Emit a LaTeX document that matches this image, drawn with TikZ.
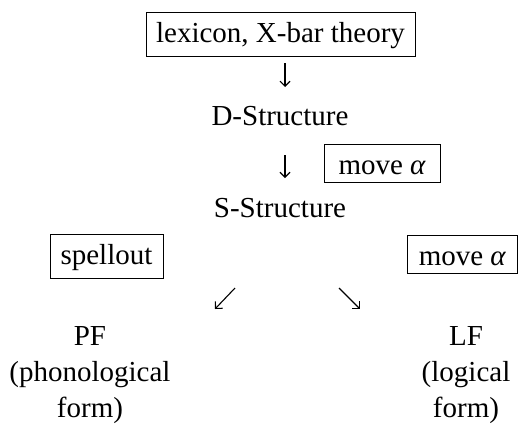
\documentclass[tikz,border=0pt]{standalone}
\usepackage{fontspec}
\setmainfont{Liberation Serif}
\usetikzlibrary{arrows.meta}
\begin{document}
\begin{tikzpicture}[x=1pt,y=-1pt,
  every node/.style={font=\fontsize{29}{36}\selectfont, inner sep=0pt},
  boxed/.style={draw, line width=0.8pt, anchor=base, text height=22pt, inner ysep=8pt},
  flow/.style={line width=1.1pt, -{Straight Barb[length=5pt,width=10pt]}}]
\useasboundingbox (0,0) rectangle (518,424);
\node[boxed, minimum width=269pt] (lex) at (280.5,42) {lexicon, X-bar theory};
\coordinate (a1s) at (285,63);
\coordinate (a1e) at (285,87);
\node[anchor=base] (ds) at (280,125) {D-Structure};
\coordinate (a2s) at (285,155);
\coordinate (a2e) at (285,178);
\node[boxed, minimum width=116pt] (mv1) at (382,174) {move {\itshape α}};
\node[anchor=base] (ss) at (280,217) {S-Structure};
\node[boxed, minimum width=113pt] (sp) at (106.5,264) {spellout};
\node[boxed, minimum width=110.5pt] (mv2) at (462.25,265) {move {\itshape α}};
\coordinate (a3s) at (235,288);
\coordinate (a3e) at (215,309);
\coordinate (a4s) at (339,288);
\coordinate (a4e) at (360,309);
\draw[flow] (a1s) -- (a1e);
\draw[flow] (a2s) -- (a2e);
\draw[flow] (a3s) -- (a3e);
\draw[flow] (a4s) -- (a4e);
\node[align=center] (pf) at (90,375) {PF\\(phonological\\form)};
\node[align=center] (lf) at (466,375) {LF\\(logical\\form)};
\end{tikzpicture}
\end{document}
